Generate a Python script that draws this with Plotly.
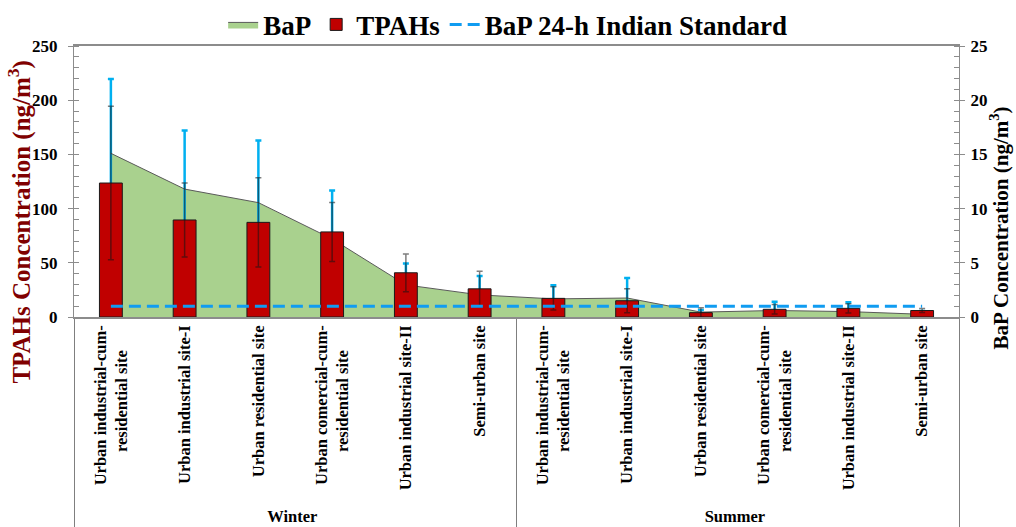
import plotly.graph_objects as go

# Sampling sites, grouped by season
season_names = ["Winter", "Summer"]
site_names = [
    "Urban industrial-cum-<br>residential site",
    "Urban industrial site-I",
    "Urban residential site",
    "Urban comercial-cum-<br>residential site",
    "Urban industrial site-II",
    "Semi-urban site",
]

# Total PAHs (ng/m3), mean and standard deviation
tpahs = [123.6, 89.5, 87.3, 78.5, 40.8, 26.0, 17.2, 15.0, 4.0, 7.1, 8.0, 6.0]
tpahs_sd = [70.9, 34.1, 41.2, 27.2, 17.4, 16.2, 10.8, 11.0, 4.5, 4.4, 4.2, 1.9]

# Benzo[a]pyrene (ng/m3), mean and standard deviation
bap = [15.1, 11.8, 10.55, 7.2, 2.96, 2.04, 1.67, 1.75, 0.45, 0.6, 0.5, 0.25]
bap_sd = [6.85, 5.4, 5.73, 4.47, 1.97, 1.74, 1.27, 1.85, 0.2, 0.8, 0.85, 0.3]

# BaP 24-h Indian standard (ng/m3)
bap_standard = [1.0] * 12

FONT = "Liberation Serif"


def site_label(name):
    # bold label; a wrapped second line is padded so it sits centred under the first
    parts = name.split("<br>")
    if len(parts) == 2:
        return "<b>" + parts[0] + "<br>" + parts[1] + "&nbsp;" * 6 + "</b>"
    return "<b>" + name + "</b>"


def season_label(name):
    return "<b>" + name + "</b>"


seasons = [season_label(s) for s in season_names for _ in site_names]
sites = [site_label(n) for n in site_names] * len(season_names)
x = [seasons, sites]

fig = go.Figure()

# BaP area, on the base (right-hand) axis so the bars sit above it
fig.add_trace(go.Scatter(
    x=x, y=bap, name="BaP", mode="lines",
    fill="tozeroy", fillcolor="#A9D18E",
    line=dict(color="#5a5a5a", width=1),
    error_y=dict(type="data", array=bap_sd, color="#00B0F0",
                 thickness=2.5, width=3),
    yaxis="y",
))

# TPAHs bars on the left axis
fig.add_trace(go.Bar(
    x=x, y=tpahs, name="TPAHs",
    marker=dict(color="#C00000", line=dict(color="#1a1a1a", width=1)),
    error_y=dict(type="data", array=tpahs_sd, color="rgba(20,20,20,0.55)",
                 thickness=1.5, width=3),
    yaxis="y2",
))

# Standard line drawn on top of everything, same scale as BaP
fig.add_trace(go.Scatter(
    x=x, y=bap_standard, name="BaP 24-h Indian Standard", mode="lines",
    line=dict(color="#109CF1", width=3, dash="12px,6px"),
    yaxis="y3",
))

tickfont = dict(family=FONT, size=17, color="black", weight="bold")
axis_line = "#8c8c8c"

fig.update_layout(
    width=1016, height=527,
    margin=dict(l=74, r=57, t=46, b=209.5, autoexpand=False),
    paper_bgcolor="white", plot_bgcolor="white",
    bargap=0.69,
    font=dict(family=FONT, color="black"),
    showlegend=True,
    legend=dict(
        orientation="h", x=0.49, xanchor="center", y=1.078, yanchor="middle",
        font=dict(family=FONT, size=27, color="black", weight="bold"),
        bgcolor="rgba(0,0,0,0)",
        itemwidth=30, traceorder="normal",
    ),
    xaxis=dict(
        type="multicategory", range=[-0.5, 11.5],
        showline=True, linecolor=axis_line, linewidth=1.5, mirror=True,
        tickangle=-90,
        tickfont=dict(family=FONT, size=16.5, color="black"),
        showdividers=True, dividercolor="#7f7f7f", dividerwidth=1,
        showgrid=False, zeroline=False,
    ),
    yaxis=dict(
        side="right", range=[0, 25], dtick=5,
        showline=True, linecolor=axis_line, linewidth=1,
        ticks="outside", ticklen=5, tickcolor=axis_line,
        minor=dict(dtick=1, ticks="inside", ticklen=5, tickcolor=axis_line),
        tickfont=tickfont, showgrid=False, zeroline=False, automargin=False,
        ticklabelstandoff=2,
    ),
    yaxis2=dict(
        overlaying="y", side="left", range=[0, 250], dtick=50,
        showline=True, linecolor=axis_line, linewidth=1,
        ticks="outside", ticklen=5, tickcolor=axis_line,
        minor=dict(dtick=10, ticks="inside", ticklen=5, tickcolor=axis_line),
        tickfont=tickfont, showgrid=False, zeroline=False, automargin=False,
        ticklabelstandoff=7,
    ),
    yaxis3=dict(
        overlaying="y", range=[0, 25], visible=False,
    ),
    annotations=[
        dict(text="<b>TPAHs Concentration (ng/m<sup>3</sup>)</b>",
             xref="paper", yref="paper", x=-0.061, y=0.352,
             xanchor="center", yanchor="middle", textangle=-90, showarrow=False,
             font=dict(family=FONT, size=25, color="#800000")),
        dict(text="<b>BaP Concentration (ng/m<sup>3</sup>)</b>",
             xref="paper", yref="paper", x=1.0462, y=0.33,
             xanchor="center", yanchor="middle", textangle=-90, showarrow=False,
             font=dict(family=FONT, size=21, color="black")),
    ],
)

fig.write_html("out.html")
